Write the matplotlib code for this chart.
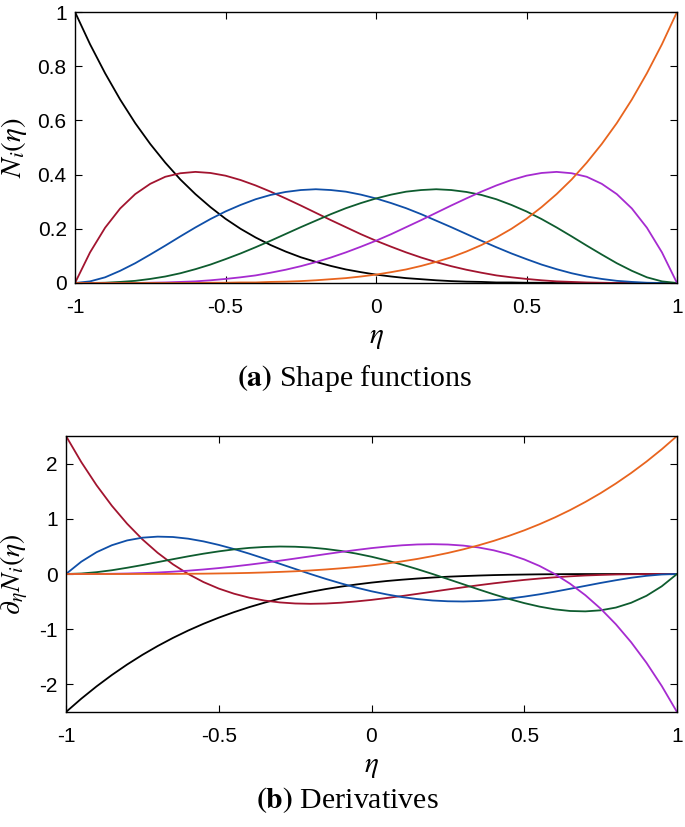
import numpy as np
import matplotlib
matplotlib.use("Agg")
from matplotlib import pyplot as plt

# abscisses (eta de -1 a 1, pas de 0.05)
eta = np.linspace(-1, 1, 41)

# fonctions de forme N_0 ... N_5 (a)
N0 = [1, 0.881, 0.774, 0.677, 0.590, 0.513, 0.444, 0.382, 0.328, 0.280, 0.237, 0.200, 0.168, 0.140,
      0.116, 0.095, 0.078, 0.063, 0.050, 0.040, 0.031, 0.024, 0.018, 0.014, 0.010, 0.007, 0.005,
      0.004, 0.002, 0.002, 0.001, 0.001, 0, 0, 0, 0, 0, 0, 0, 0, 0]
N1 = [0, 0.113, 0.204, 0.275, 0.328, 0.366, 0.392, 0.405, 0.410, 0.406, 0.396, 0.380, 0.360, 0.337,
      0.312, 0.286, 0.259, 0.232, 0.206, 0.180, 0.156, 0.134, 0.113, 0.094, 0.077, 0.062, 0.049,
      0.038, 0.028, 0.021, 0.015, 0.010, 0.006, 0.004, 0.002, 0.001, 0, 0, 0, 0, 0]
N2 = [0, 0.006, 0.021, 0.045, 0.073, 0.105, 0.138, 0.172, 0.205, 0.236, 0.264, 0.288, 0.309, 0.325,
      0.336, 0.343, 0.346, 0.343, 0.337, 0.326, 0.312, 0.295, 0.276, 0.254, 0.230, 0.206, 0.181,
      0.156, 0.132, 0.109, 0.088, 0.068, 0.051, 0.036, 0.024, 0.015, 0.008, 0.004, 0.001, 0, 0]
N3 = [0, 0, 0.001, 0.004, 0.008, 0.015, 0.024, 0.036, 0.051, 0.068, 0.088, 0.109, 0.132, 0.156,
      0.181, 0.206, 0.230, 0.254, 0.276, 0.295, 0.312, 0.326, 0.337, 0.343, 0.346, 0.343, 0.336,
      0.325, 0.309, 0.288, 0.264, 0.236, 0.205, 0.172, 0.138, 0.105, 0.073, 0.045, 0.021, 0.006, 0]
N4 = [0, 0, 0, 0, 0, 0.001, 0.002, 0.004, 0.006, 0.010, 0.015, 0.021, 0.028, 0.038, 0.049, 0.062,
      0.077, 0.094, 0.113, 0.134, 0.156, 0.180, 0.206, 0.232, 0.259, 0.286, 0.312, 0.337, 0.360,
      0.380, 0.396, 0.406, 0.410, 0.405, 0.392, 0.366, 0.328, 0.275, 0.204, 0.113, 0]
N5 = [0, 0, 0, 0, 0, 0, 0, 0, 0, 0.001, 0.001, 0.002, 0.002, 0.004, 0.005, 0.007, 0.010, 0.014,
      0.018, 0.024, 0.031, 0.040, 0.050, 0.063, 0.078, 0.095, 0.116, 0.140, 0.168, 0.200, 0.237,
      0.280, 0.328, 0.382, 0.444, 0.513, 0.590, 0.677, 0.774, 0.881, 1]

# derivees (b)
dN0 = [-2.5, -2.259, -2.036, -1.830, -1.640, -1.465, -1.305, -1.158, -1.024, -0.902, -0.791, -0.691,
       -0.600, -0.519, -0.446, -0.381, -0.324, -0.273, -0.229, -0.190, -0.156, -0.127, -0.103,
       -0.082, -0.064, -0.049, -0.038, -0.028, -0.020, -0.014, -0.010, -0.006, -0.004, -0.002,
       -0.001, -0.001, 0, 0, 0, 0, 0]
dN1 = [2.5, 2.028, 1.608, 1.237, 0.911, 0.628, 0.384, 0.176, 0, -0.146, -0.264, -0.357, -0.429,
       -0.481, -0.515, -0.534, -0.540, -0.535, -0.520, -0.497, -0.469, -0.435, -0.399, -0.360,
       -0.320, -0.280, -0.241, -0.204, -0.169, -0.137, -0.107, -0.082, -0.060, -0.042, -0.027,
       -0.017, -0.009, -0.004, -0.001, 0, 0]
dN2 = [0, 0.223, 0.395, 0.521, 0.608, 0.658, 0.677, 0.670, 0.640, 0.591, 0.527, 0.452, 0.368, 0.278,
       0.185, 0.092, 0, -0.088, -0.170, -0.246, -0.313, -0.370, -0.418, -0.454, -0.480, -0.494,
       -0.498, -0.490, -0.473, -0.446, -0.410, -0.368, -0.320, -0.268, -0.215, -0.162, -0.113,
       -0.068, -0.033, -0.009, 0]
dN3 = [0, 0.009, 0.033, 0.068, 0.113, 0.162, 0.215, 0.268, 0.320, 0.368, 0.410, 0.446, 0.473, 0.490,
       0.498, 0.494, 0.480, 0.454, 0.418, 0.370, 0.313, 0.246, 0.170, 0.088, 0, -0.092, -0.185,
       -0.278, -0.368, -0.452, -0.527, -0.591, -0.640, -0.670, -0.677, -0.658, -0.608, -0.521,
       -0.395, -0.223, 0]
dN4 = [0, 0, 0.001, 0.004, 0.009, 0.017, 0.027, 0.042, 0.060, 0.082, 0.107, 0.137, 0.169, 0.204,
       0.241, 0.280, 0.320, 0.360, 0.399, 0.435, 0.469, 0.497, 0.520, 0.535, 0.540, 0.534, 0.515,
       0.481, 0.429, 0.357, 0.264, 0.146, 0, -0.176, -0.384, -0.628, -0.911, -1.237, -1.608,
       -2.028, -2.5]
dN5 = [0, 0, 0, 0, 0, 0.001, 0.001, 0.002, 0.004, 0.006, 0.010, 0.014, 0.020, 0.028, 0.038, 0.049,
       0.064, 0.082, 0.103, 0.127, 0.156, 0.190, 0.229, 0.273, 0.324, 0.381, 0.446, 0.519, 0.600,
       0.691, 0.791, 0.902, 1.024, 1.158, 1.305, 1.465, 1.640, 1.830, 2.036, 2.259, 2.5]

xticks = [-1, -0.5, 0, 0.5, 1]
xtick_labels = ['-1', '-0.5', '0', '0.5', '1']
yticks_a = [0, 0.2, 0.4, 0.6, 0.8, 1]
ytick_labels_a = ['0', '0.2', '0.4', '0.6', '0.8', '1']
yticks_b = [-2, -1, 0, 1, 2]
ytick_labels_b = ['-2', '-1', '0', '1', '2']

couleurs = ['black', '#A2142F', '#0F4FA8', '#0E5C2F', '#A62BD0', '#E8641E']

plt.rcParams['font.family'] = ['Liberation Sans']
plt.rcParams['mathtext.fontset'] = 'stix'

W, H = 685, 827
fig = plt.figure(figsize=(W/100, H/100), dpi=100)
ax1 = fig.add_axes([75/W, 1-283/H, 602/W, 271/H])
ax2 = fig.add_axes([66/W, 1-712/H, 611/W, 276/H])

for c, y in zip(couleurs, [N0, N1, N2, N3, N4, N5]):
    ax1.plot(eta, y, color=c, lw=1.3, solid_joinstyle='round')
for c, y in zip(couleurs, [dN0, dN1, dN2, dN3, dN4, dN5]):
    ax2.plot(eta, y, color=c, lw=1.3, solid_joinstyle='round')

for ax in [ax1, ax2]:
    ax.set_xlim(-1, 1)
    ax.set_xticks(xticks)
    ax.set_xticklabels(xtick_labels)
    ax.tick_params(direction='in', top=True, right=True, length=5, width=0.8, labelsize=15)
    ax.tick_params(axis='x', pad=11)
    ax.tick_params(axis='y', pad=6)
    for sp in ax.spines.values():
        sp.set_linewidth(1.0)
    ax.set_xlabel(r'$\eta$', fontsize=21, labelpad=4)

ax1.set_ylim(0, 1)
ax1.set_yticks(yticks_a)
ax1.set_yticklabels(ytick_labels_a)
ax1.set_ylabel(r'$N_i(\eta)$', fontsize=21)
ax1.yaxis.set_label_coords((29-75)/602, 0.5)

ax2.set_ylim(-2.5, 2.5)
ax2.set_yticks(yticks_b)
ax2.set_yticklabels(ytick_labels_b)
ax2.set_ylabel(r'$\partial_\eta N_i(\eta)$', fontsize=20)
ax2.yaxis.set_label_coords((30-66)/611, 0.5)

fig.text(354/W, 1-379/H, r'$\mathbf{(a)}$ Shape functions', family='Liberation Serif',
         fontsize=21.5, ha='center', va='center')
fig.text(347/W, 1-800/H, r'$\mathbf{(b)}$ Derivatives', family='Liberation Serif',
         fontsize=21.5, ha='center', va='center')

fig.savefig("out.png")
